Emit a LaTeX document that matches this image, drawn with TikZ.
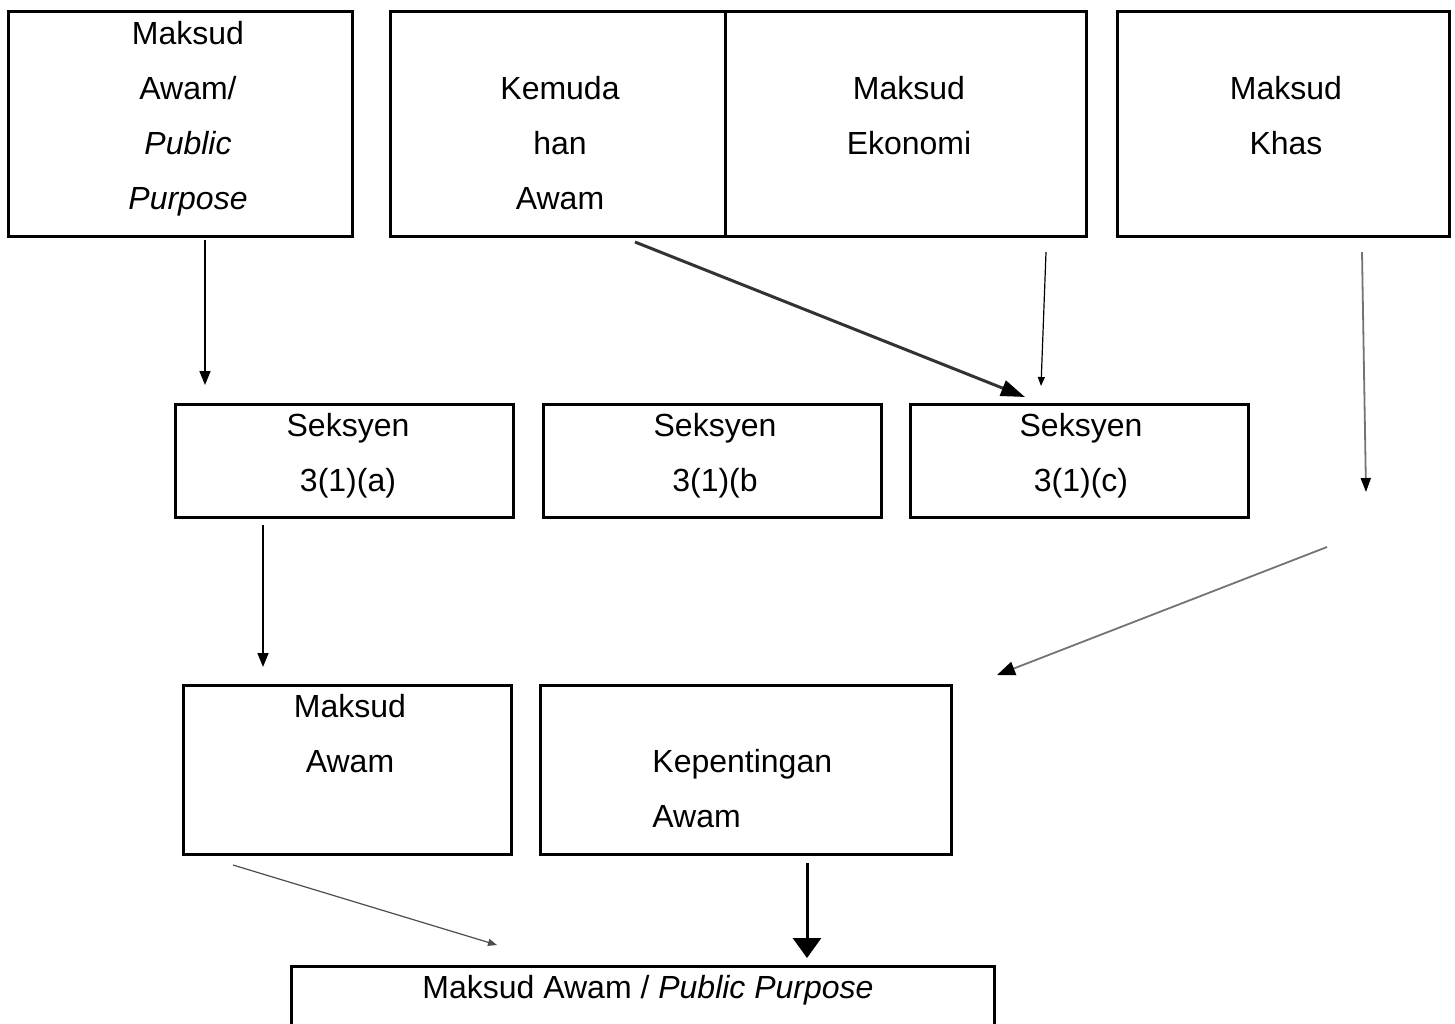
\documentclass[tikz,border=0pt]{standalone}
\usepackage{fontspec}
\setmainfont{Liberation Sans}
\usetikzlibrary{arrows.meta}

\begin{document}
\begin{tikzpicture}[%
  x=0.5pt,y=-0.5pt,
  box/.style={rectangle,draw,line width=1.5pt,inner sep=0pt},
  top/.style={box,minimum height=112.5pt},
  sek/.style={box,minimum width=169pt,minimum height=56.5pt},
  mid/.style={box,minimum height=84.5pt},
  lbl/.style={inner sep=0pt,align=center,font={\fontsize{16}{27.5}\selectfont}},
  arr/.style={-{Triangle[length=7pt,width=5.5pt]},line width=0.8pt},
  thin/.style={-{Triangle[length=4.5pt,width=3.5pt]},line width=0.6pt},
  grey/.style={-{Triangle[length=7pt,width=5pt,color=black]},draw=black!55,line width=0.9pt},
  heavy/.style={-{Triangle[length=12pt,width=8pt,color=black]},line width=1.5pt,draw=black!80},
  bold/.style={-{Triangle[length=10pt,width=14pt]},line width=1.5pt}]
    \useasboundingbox (0,0) rectangle (1455,1023);
    \clip (0,0) rectangle (1455,1023);
    % Top row
    \node[top,minimum width=172pt]   (maksudawam) at (180,123.5) {};
    \node[top,minimum width=167.5pt] (kemudahan)  at (557.5,123.5) {};
    \node[top,minimum width=180.5pt] (ekonomi)    at (905.5,123.5) {};
    \node[top,minimum width=166pt]   (khas)       at (1283,123.5) {};
    \node[lbl] (maksudawam-t) at (188,118.5) {Maksud\\Awam/\\\textit{Public}\\\textit{Purpose}};
    \node[lbl] (kemudahan-t)  at (560,142.75) {Kemuda\\han\\Awam};
    \node[lbl] (ekonomi-t)    at (909,115.25) {Maksud\\Ekonomi};
    \node[lbl] (khas-t)       at (1286,115.25) {Maksud\\Khas};
    % Seksyen row
    \node[sek] (s3a) at (344,460.5) {};
    \node[sek] (s3b) at (712,460.5) {};
    \node[sek] (s3c) at (1079.5,460.5) {};
    \node[lbl] (s3a-t) at (348,455.5) {Seksyen\\3(1)(a)};
    \node[lbl] (s3b-t) at (715,455.5) {Seksyen\\3(1)(b};
    \node[lbl] (s3c-t) at (1081,455.5) {Seksyen\\3(1)(c)};
    % Third row
    \node[mid,minimum width=164pt]   (awam)       at (347,769.5) {};
    \node[mid,minimum width=205.5pt] (kepentingan) at (745.5,769.5) {};
    \node[lbl] (awam-t) at (350,733.25) {Maksud\\Awam};
    \node[lbl,anchor=west,align=left] (kepentingan-t) at (652,788.75) {Kepentingan\\Awam};
    % Result
    \node[box,minimum width=351.5pt,minimum height=45pt] (pp) at (642.5,1011) {};
    \node[lbl] (pp-t) at (648,990) {Maksud Awam / \textit{Public Purpose}};
    % Arrow ends
    \coordinate (a1s) at (205,240);  \coordinate (a1e) at (205,385);
    \coordinate (a2s) at (635,242);  \coordinate (a2e) at (1025,397);
    \coordinate (a3s) at (1046,252); \coordinate (a3e) at (1041,386);
    \coordinate (a4s) at (1362,252); \coordinate (a4e) at (1366,492);
    \coordinate (a5s) at (263,525);  \coordinate (a5e) at (263,667);
    \coordinate (a6s) at (1327,547); \coordinate (a6e) at (997,675);
    \coordinate (a7s) at (233,865);  \coordinate (a7e) at (497,945);
    \coordinate (a8s) at (807,863);  \coordinate (a8e) at (807,958);
    % Arrows
    \draw[arr]   (a1s) -- (a1e);
    \draw[heavy] (a2s) -- (a2e);
    \draw[thin]  (a3s) -- (a3e);
    \draw[grey]  (a4s) -- (a4e);
    \draw[arr]   (a5s) -- (a5e);
    \draw[grey,-{Triangle[length=9pt,width=7pt,color=black]}] (a6s) -- (a6e);
    \draw[thin,draw=black!70] (a7s) -- (a7e);
    \draw[bold]  (a8s) -- (a8e);
\end{tikzpicture}
\end{document}
